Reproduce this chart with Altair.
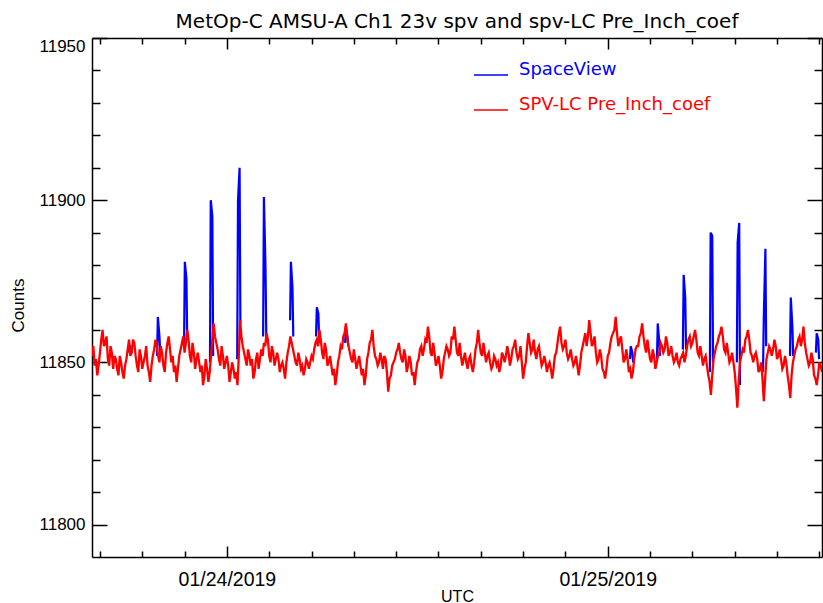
import altair as alt
import pandas as pd

TITLE = "MetOp-C AMSU-A Ch1 23v spv and spv-LC Pre_Inch_coef"
SPV_NAME = "SpaceView"
LC_NAME = "SPV-LC Pre_Inch_coef"

# Lunar-contamination-corrected space-view counts, one sample every 5 minutes
lc_start = "2019-01-23 15:30"
lc_counts = [
    11852, 11855, 11849, 11851, 11846, 11849, 11853, 11857, 11860, 11855, 11856, 11858, 11851, 11849, 11855, 11853, 11848, 11852, 11851, 11848,
    11846, 11852, 11850, 11847, 11845, 11849, 11851, 11854, 11857, 11852, 11853, 11857, 11856, 11852, 11849, 11847, 11854, 11852, 11848, 11850,
    11852, 11855, 11849, 11847, 11844, 11849, 11852, 11854, 11857, 11855, 11852, 11850, 11855, 11853, 11849, 11847, 11853, 11856, 11858, 11854,
    11850, 11852, 11847, 11849, 11844, 11848, 11852, 11854, 11856, 11858, 11853, 11856, 11860, 11857, 11852, 11850, 11856, 11853, 11848, 11851,
    11853, 11850, 11847, 11849, 11843, 11846, 11851, 11848, 11844, 11847, 11852, 11857, 11862, 11858, 11856, 11854, 11851, 11849, 11855, 11852,
    11848, 11850, 11852, 11849, 11844, 11847, 11850, 11848, 11845, 11847, 11843, 11852, 11863, 11858, 11855, 11853, 11851, 11849, 11854, 11852,
    11849, 11851, 11845, 11847, 11851, 11853, 11848, 11851, 11854, 11852, 11856, 11855, 11859, 11857, 11852, 11850, 11855, 11853, 11849, 11851,
    11853, 11851, 11847, 11849, 11850, 11848, 11845, 11850, 11853, 11855, 11858, 11856, 11854, 11852, 11850, 11849, 11853, 11851, 11848, 11849,
    11846, 11848, 11851, 11850, 11848, 11850, 11852, 11851, 11854, 11856, 11857, 11855, 11860, 11857, 11853, 11851, 11856, 11854, 11849, 11850,
    11852, 11849, 11846, 11848, 11843, 11846, 11850, 11852, 11855, 11854, 11858, 11859, 11862, 11857, 11855, 11853, 11851, 11850, 11854, 11851,
    11848, 11850, 11852, 11849, 11846, 11848, 11843, 11846, 11851, 11853, 11856, 11857, 11860, 11855, 11852, 11851, 11849, 11850, 11853, 11851,
    11848, 11852, 11851, 11847, 11841, 11845, 11846, 11849, 11850, 11851, 11853, 11854, 11856, 11853, 11851, 11850, 11854, 11852, 11847, 11849,
    11852, 11850, 11846, 11847, 11843, 11847, 11850, 11851, 11854, 11855, 11852, 11854, 11857, 11856, 11861, 11858, 11853, 11852, 11856, 11853,
    11849, 11850, 11852, 11849, 11845, 11847, 11851, 11853, 11855, 11854, 11852, 11853, 11858, 11857, 11861, 11857, 11853, 11852, 11856, 11852,
    11849, 11851, 11853, 11850, 11848, 11851, 11852, 11849, 11847, 11850, 11854, 11856, 11860, 11856, 11853, 11852, 11856, 11853, 11850, 11852,
    11853, 11850, 11848, 11849, 11852, 11851, 11849, 11850, 11847, 11849, 11853, 11852, 11850, 11852, 11855, 11853, 11849, 11851, 11854, 11855,
    11857, 11853, 11851, 11852, 11855, 11850, 11845, 11848, 11850, 11855, 11859, 11856, 11853, 11854, 11857, 11853, 11851, 11854, 11855, 11852,
    11849, 11850, 11852, 11850, 11847, 11849, 11850, 11848, 11845, 11848, 11852, 11853, 11856, 11859, 11861, 11856, 11854, 11855, 11857, 11853,
    11851, 11852, 11854, 11851, 11849, 11850, 11852, 11849, 11846, 11849, 11853, 11855, 11857, 11859, 11855, 11858, 11863, 11859, 11855, 11856,
    11858, 11853, 11850, 11851, 11854, 11852, 11848, 11847, 11845, 11848, 11852, 11853, 11856, 11858, 11859, 11860, 11864, 11859, 11855, 11857,
    11858, 11854, 11850, 11851, 11854, 11851, 11847, 11848, 11845, 11847, 11851, 11854, 11855, 11855, 11858, 11859, 11862, 11858, 11855, 11853,
    11857, 11854, 11851, 11850, 11854, 11852, 11848, 11850, 11852, 11853, 11856, 11855, 11853, 11854, 11858, 11856, 11852, 11853, 11855, 11852,
    11850, 11851, 11853, 11850, 11849, 11851, 11852, 11853, 11850, 11852, 11855, 11857, 11858, 11855, 11856, 11858, 11860, 11857, 11853, 11852,
    11855, 11852, 11849, 11851, 11852, 11849, 11846, 11844, 11840, 11846, 11851, 11853, 11855, 11856, 11858, 11859, 11861, 11858, 11854, 11853,
    11856, 11853, 11850, 11851, 11853, 11850, 11847, 11842, 11836, 11844, 11850, 11852, 11854, 11853, 11857, 11858, 11860, 11857, 11853, 11852,
    11850, 11852, 11853, 11851, 11847, 11848, 11850, 11845, 11838, 11845, 11851, 11853, 11855, 11854, 11852, 11854, 11857, 11855, 11851, 11852,
    11854, 11851, 11848, 11849, 11852, 11850, 11846, 11843, 11839, 11846, 11850, 11852, 11854, 11855, 11857, 11858, 11855, 11857, 11861, 11856,
    11853, 11851, 11849, 11850, 11853, 11851, 11846, 11845, 11843, 11846, 11850, 11849, 11847,
]

# Raw space-view passes where the moon enters the view:
# pass time, count before, first and second peak samples, count after
spike_times = [
    "2019-01-23 17:53", "2019-01-23 19:39", "2019-01-23 21:21", "2019-01-23 22:59",
    "2019-01-24 00:42", "2019-01-24 02:20", "2019-01-24 04:02", "2019-01-24 05:40",
    "2019-01-24 07:30", "2019-01-25 01:27", "2019-01-25 03:09", "2019-01-25 04:47",
    "2019-01-25 06:29", "2019-01-25 08:11", "2019-01-25 09:50", "2019-01-25 11:32",
    "2019-01-25 13:10",
]
spike_before = [11853, 11852, 11855, 11850, 11851, 11858, 11863, 11858, 11856,
                11851, 11851, 11854, 11847, 11850, 11847, 11852, 11853]
spike_peak1 = [11855, 11864, 11881, 11900, 11900, 11901, 11881, 11867, 11861,
               11855, 11862, 11877, 11890, 11887, 11864, 11870, 11859]
spike_peak2 = [11854, 11858, 11876, 11895, 11910, 11879, 11873, 11865, 11858,
               11853, 11856, 11870, 11889, 11893, 11885, 11861, 11857]
spike_after = [11853, 11853, 11857, 11852, 11862, 11858, 11858, 11856, 11855,
               11850, 11852, 11854, 11850, 11843, 11855, 11852, 11851]
# sample offsets (minutes) of the four points that make up one pass
spike_offsets = [-3, 0, 6, 9]

# Axis extents and tick marks
x_domain = ["2019-01-23 15:30", "2019-01-25 13:30"]
y_domain = [11790, 11950]
x_ticks = [
    "2019-01-23 16:00", "2019-01-23 18:40", "2019-01-23 21:20", "2019-01-24 00:00",
    "2019-01-24 02:40", "2019-01-24 05:20", "2019-01-24 08:00", "2019-01-24 10:40",
    "2019-01-24 13:20", "2019-01-24 16:00", "2019-01-24 18:40", "2019-01-24 21:20",
    "2019-01-25 00:00", "2019-01-25 02:40", "2019-01-25 05:20", "2019-01-25 08:00",
    "2019-01-25 10:40", "2019-01-25 13:20",
]
y_ticks = [11800, 11810, 11820, 11830, 11840, 11850, 11860, 11870, 11880,
           11890, 11900, 11910, 11920, 11930, 11940, 11950]


def to_ms(ts):
    return int(pd.Timestamp(ts, tz="UTC").value // 10**6)


lc_times = pd.date_range(pd.Timestamp(lc_start, tz="UTC"), periods=len(lc_counts), freq="5min")
lc_df = pd.DataFrame({
    "time": [int(t.value // 10**6) for t in lc_times],
    "counts": lc_counts,
    "series": LC_NAME,
})

rows = []
for i, t in enumerate(spike_times):
    t0 = pd.Timestamp(t, tz="UTC")
    vals = [spike_before[i], spike_peak1[i], spike_peak2[i], spike_after[i]]
    for off, v in zip(spike_offsets, vals):
        rows.append({
            "time": int((t0 + pd.Timedelta(minutes=off)).value // 10**6),
            "counts": v,
            "pass": i,
            "series": SPV_NAME,
        })
spv_df = pd.DataFrame(rows)

x_scale = alt.Scale(type="utc", domain=[to_ms(x_domain[0]), to_ms(x_domain[1])])
y_scale = alt.Scale(domain=y_domain, nice=False, zero=False)
x_tick_ms = [to_ms(t) for t in x_ticks]

is_day = "utchours(datum.value) === 0 && utcminutes(datum.value) === 0"
is_major_y = "datum.value % 50 === 0"

frame = dict(domainColor="black", domainWidth=1.5, tickColor="black",
             tickWidth=1.5, grid=False)

x_bottom = alt.Axis(
    orient="bottom", values=x_tick_ms,
    tickSize=alt.ExprRef(f"{is_day} ? -11 : -6"),
    labelExpr=f"{is_day} ? utcFormat(datum.value, '%m/%d/%Y') : ''",
    labelPadding=24, labelOverlap=False, labelFlush=False,
    labelFont="Liberation Sans", labelFontSize=19.5, labelColor="black",
    title="UTC", titleFont="Liberation Sans", titleFontSize=16,
    titleFontWeight="normal", titleColor="black",
    titleX=365, titleY=39, titleBaseline="middle", titleAlign="center",
    **frame,
)
y_left = alt.Axis(
    orient="left", values=y_ticks,
    tickSize=alt.ExprRef(f"{is_major_y} ? -15 : -8"),
    labelExpr=f"{is_major_y} ? format(datum.value, 'd') : ''",
    labelPadding=22, labelOverlap=False, labelFlush=True,
    labelFont="Liberation Sans", labelFontSize=17, labelColor="black",
    title="Counts", titleFont="Liberation Sans", titleFontSize=17,
    titleFontWeight="normal", titleColor="black",
    titleX=-74, titleY=267, titleAngle=270, titleBaseline="middle",
    titleAlign="center",
    **frame,
)
x_top = alt.Axis(
    orient="top", values=x_tick_ms,
    tickSize=alt.ExprRef(f"{is_day} ? -11 : -6"),
    labels=False, title=None, **frame,
)
y_right = alt.Axis(
    orient="right", values=y_ticks,
    tickSize=alt.ExprRef(f"{is_major_y} ? -15 : -8"),
    labels=False, title=None, **frame,
)


def legend_for(color, y):
    return alt.Legend(
        title=None, orient="none", legendX=381, legendY=y, padding=0,
        symbolType="stroke", symbolSize=1156, symbolStrokeWidth=1.5,
        labelColor=color, labelFont="DejaVu Sans", labelFontSize=18,
        labelOffset=10, labelBaseline="alphabetic", labelLimit=0,
    )


spv_line = alt.Chart(spv_df).mark_line(strokeWidth=2.2, clip=True).encode(
    x=alt.X("time:T", scale=x_scale, axis=x_top),
    y=alt.Y("counts:Q", scale=y_scale, axis=y_right),
    detail="pass:N",
    color=alt.Color("series:N", scale=alt.Scale(domain=[SPV_NAME], range=["#0000ff"]),
                    legend=legend_for("#0000ff", 19)),
)

lc_line = alt.Chart(lc_df).mark_line(strokeWidth=2.3, clip=True).encode(
    x=alt.X("time:T", scale=x_scale, axis=x_bottom),
    y=alt.Y("counts:Q", scale=y_scale, axis=y_left),
    color=alt.Color("series:N", scale=alt.Scale(domain=[LC_NAME], range=["#ff0000"]),
                    legend=legend_for("#ff0000", 54)),
)

chart = (
    alt.layer(spv_line, lc_line)
    .resolve_scale(color="independent")
    .resolve_axis(x="independent", y="independent")
    .properties(
        width=730, height=519,
        title=alt.TitleParams(TITLE, font="DejaVu Sans", fontSize=20,
                              fontWeight="normal", color="black",
                              anchor="middle", baseline="alphabetic",
                              offset=10, dy=21),
        autosize=alt.AutoSizeParams(type="none"),
        padding={"left": 92, "top": 38, "right": 1, "bottom": 46},
        background="white",
    )
    .configure_view(strokeWidth=0)
)

chart.save("out.html", embed_options={"renderer": "svg", "actions": False})
